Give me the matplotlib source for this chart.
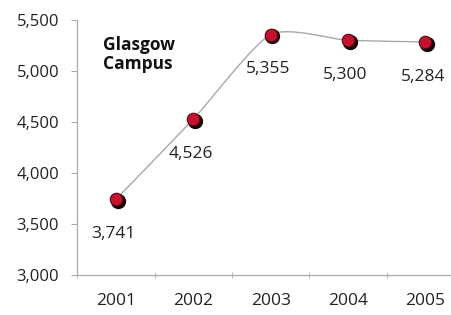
import matplotlib
matplotlib.use("Agg")
import matplotlib.pyplot as plt
import matplotlib.transforms as mtransforms
from matplotlib.path import Path
from matplotlib.patches import PathPatch
import numpy as np

# --- data ---
years = ["2001", "2002", "2003", "2004", "2005"]
students = [3741, 4526, 5355, 5300, 5284]
labels = ["3,741", "4,526", "5,355", "5,300", "5,284"]
yticks = [3000, 3500, 4000, 4500, 5000, 5500]
ytick_labels = ["3,000", "3,500", "4,000", "4,500", "5,000", "5,500"]

plt.rcParams["font.family"] = ["Open Sans", "DejaVu Sans"]

fig = plt.figure(figsize=(4.51, 3.15), dpi=100)
ax = fig.add_axes([0.171, 0.127, 0.829, 0.81])

x = np.arange(len(years))
y = np.array(students, dtype=float)

# smoothed line (Catmull-Rom style bezier through the data points, low tension)
k = 1 / 9
verts = [(x[0], y[0])]
codes = [Path.MOVETO]
for i in range(len(x) - 1):
    p0 = (x[i - 1], y[i - 1]) if i > 0 else (x[i], y[i])
    p1 = (x[i], y[i])
    p2 = (x[i + 1], y[i + 1])
    p3 = (x[i + 2], y[i + 2]) if i + 2 < len(x) else p2
    c1 = (p1[0] + (p2[0] - p0[0]) * k, p1[1] + (p2[1] - p0[1]) * k)
    c2 = (p2[0] - (p3[0] - p1[0]) * k, p2[1] - (p3[1] - p1[1]) * k)
    verts += [c1, c2, p2]
    codes += [Path.CURVE4] * 3
ax.add_patch(PathPatch(Path(verts, codes), facecolor="none",
                       edgecolor="#a8a8a8", lw=1.0, zorder=2))

# markers with dark shadow
shadow = mtransforms.offset_copy(ax.transData, fig=fig, x=1.8, y=-1.8, units="dots")
ax.plot(x, y, "o", ms=10, color="#1a0508", mec="#1a0508", transform=shadow, zorder=3)
ax.plot(x, y, "o", ms=9, color="#c4122f", mec="#5a0a14", mew=0.8, zorder=4)

for xi, yi, lab in zip(x, y, labels):
    ax.annotate(lab, (xi, yi), xytext=(-2, -25), textcoords="offset points",
                ha="center", va="center", fontsize=12.5, color="#222222")

ax.text(0.07, 0.935, "Glasgow\nCampus", transform=ax.transAxes,
        fontsize=12.5, fontweight="bold", va="top", ha="left",
        linespacing=1.05, color="#111111")

ax.set_xlim(-0.5, 4.33)
ax.set_ylim(3000, 5500)
ax.set_yticks(yticks)
ax.set_yticklabels(ytick_labels, fontsize=12, color="#222222")
ax.set_xticks(x)
ax.set_xticklabels(years, fontsize=12.5, color="#222222")
ax.set_xticks(np.arange(-0.5, 4.5, 1), minor=True)
ax.tick_params(axis="x", which="major", length=0, pad=13)
ax.tick_params(axis="x", which="minor", length=4, direction="inout", color="#aaaaaa")
ax.tick_params(axis="y", length=4, color="#aaaaaa", pad=9)

for side in ["top", "right"]:
    ax.spines[side].set_visible(False)
for side in ["left", "bottom"]:
    ax.spines[side].set_color("#aaaaaa")
    ax.spines[side].set_linewidth(0.9)

fig.savefig("out.png", dpi=100)
